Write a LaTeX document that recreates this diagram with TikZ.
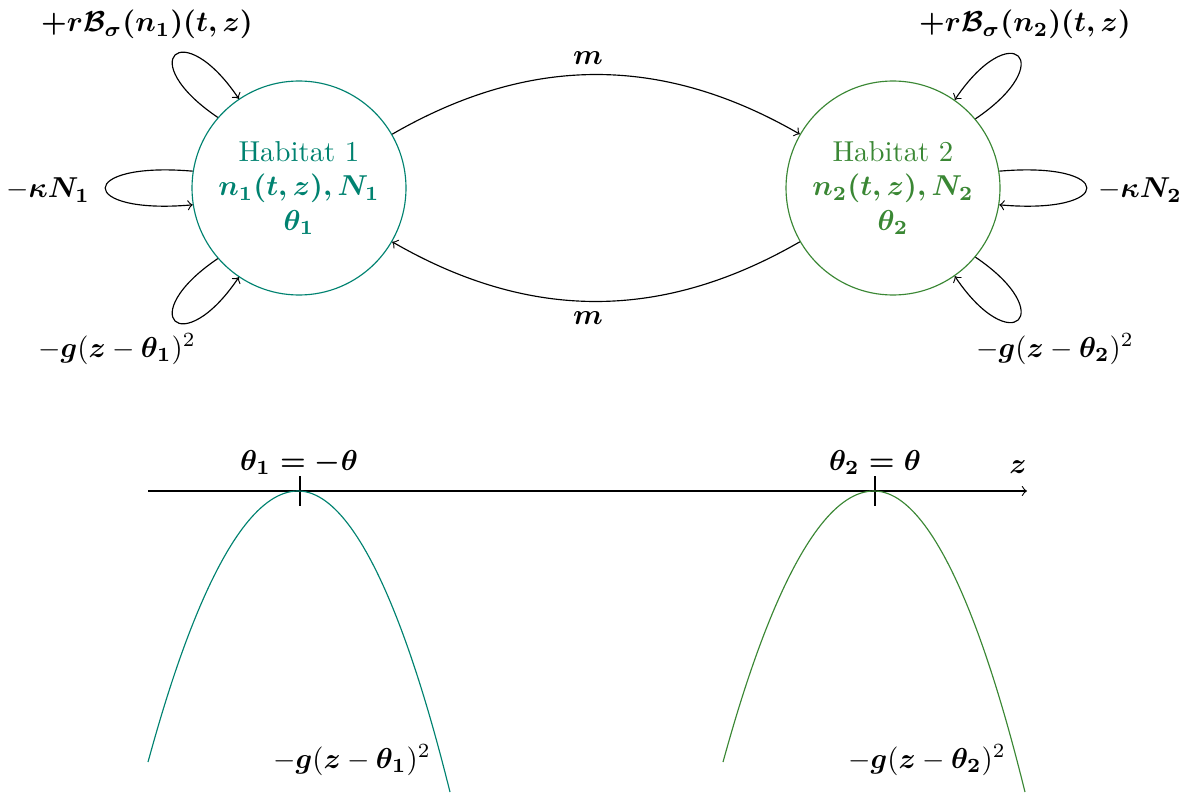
\documentclass[tikz,border=0pt]{standalone}
\usepackage{amsmath,amssymb}
\usetikzlibrary{arrows}
\definecolor{habone}{RGB}{0,130,112}
\definecolor{habtwo}{RGB}{58,135,52}
\begin{document}
\begin{tikzpicture}[x=0.3472pt,y=0.3472pt,
  habitat/.style={circle,draw,minimum size=74.3pt,inner sep=0pt,align=center,line width=0.4pt},
  lab/.style={anchor=base,inner sep=0pt},
  conn/.style={->,line width=0.4pt}]
\useasboundingbox (0,0) rectangle (1190,796);
% habitats
\node[habitat,draw=habone,text=habone] (h1) at (299,608)
  {Habitat 1\\ $\boldsymbol{n_1(t,z), N_1}$\\ $\boldsymbol{\theta_1}$};
\node[habitat,draw=habtwo,text=habtwo] (h2) at (893,608)
  {Habitat 2\\ $\boldsymbol{n_2(t,z), N_2}$\\ $\boldsymbol{\theta_2}$};
% migration
\draw[conn] (h1) to[bend left=30] node[above,pos=0.48] (m1) {$\boldsymbol{m}$} (h2);
\draw[conn] (h2) to[bend left=30] node[below,pos=0.52] (m2) {$\boldsymbol{m}$} (h1);
% loops habitat 1
\draw[conn] (h1.139) .. controls +(146:102) and +(124:102) .. (h1.124);
\draw[conn] (h1.171) .. controls +(175:117) and +(185:117) .. (h1.189);
\draw[conn] (h1.221) .. controls +(214:102) and +(236:102) .. (h1.236);
% loops habitat 2
\draw[conn] (h2.40) .. controls +(34:102) and +(56:102) .. (h2.55);
\draw[conn] (h2.9) .. controls +(5:117) and +(-5:117) .. (h2.-9);
\draw[conn] (h2.-40) .. controls +(-34:102) and +(-56:102) .. (h2.-55);
% loop labels
\node[lab] (b1) at (147,764) {$\boldsymbol{+r\mathcal{B}_\sigma(n_1)(t,z)}$};
\node[lab] (k1) at (48,598) {$-\boldsymbol{\kappa N_1}$};
\node[lab] (g1) at (117,439) {$-\boldsymbol{g}(\boldsymbol{z}-\boldsymbol{\theta_1})^2$};
\node[lab] (b2) at (1025,764) {$\boldsymbol{+r\mathcal{B}_\sigma(n_2)(t,z)}$};
\node[lab] (k2) at (1140,598) {$-\boldsymbol{\kappa N_2}$};
\node[lab] (g2) at (1055,439) {$-\boldsymbol{g}(\boldsymbol{z}-\boldsymbol{\theta_2})^2$};
% axis
\coordinate (a0) at (148,305);
\coordinate (a1) at (1027,305);
\draw[conn] (a0) -- (a1);
\node[lab] (zl) at (1018,323) {$\boldsymbol{z}$};
\draw (300,320) -- (300,290);
\draw (875,320) -- (875,290);
\node[lab] (th1) at (299,326) {$\boldsymbol{\theta_1=-\theta}$};
\node[lab] (th2) at (875,326) {$\boldsymbol{\theta_2=\theta}$};
% parabolas
\draw[habone] (148,34) parabola bend (298,305) (450,4);
\draw[habtwo] (723,34) parabola bend (874,305) (1025,4);
\node[lab] (p1) at (352,28) {$-\boldsymbol{g}(\boldsymbol{z}-\boldsymbol{\theta_1})^2$};
\node[lab] (p2) at (927,28) {$-\boldsymbol{g}(\boldsymbol{z}-\boldsymbol{\theta_2})^2$};
\end{tikzpicture}
\end{document}
